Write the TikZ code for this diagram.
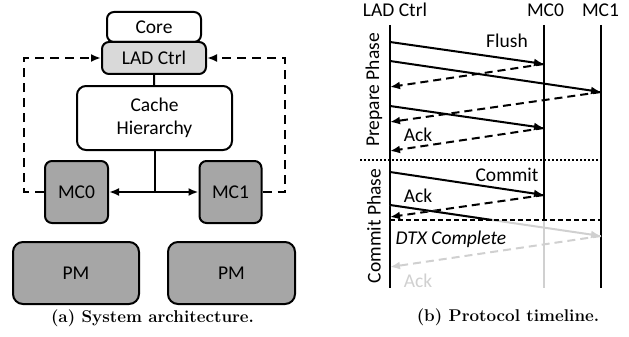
\documentclass[tikz,border=0pt]{standalone}
\usepackage{fontspec}
\setsansfont{Carlito}
\usetikzlibrary{arrows.meta}
\definecolor{ladgray}{HTML}{D9D9D9}
\definecolor{mcgray}{HTML}{A6A6A6}
\definecolor{fadegray}{HTML}{D0D0D0}
\tikzset{
  box/.style={draw,line width=2pt,rounded corners=7pt,inner sep=0pt,align=center},
  feedback/.style={line width=2pt,dash pattern=on 9pt off 6pt,->},
  msg/.style={line width=2pt,->},
  reply/.style={msg,dash pattern=on 8pt off 5pt},
  lifeline/.style={line width=2pt},
  caption/.style={font=\rmfamily\bfseries\fontsize{17}{20}\selectfont},
}
\begin{document}
\begin{tikzpicture}[x=1pt,y=-1pt,>={Latex[length=10pt,width=8pt]},inner sep=0pt,
  font=\sffamily\fontsize{19.5}{23}\selectfont]
\useasboundingbox (0,0) rectangle (629,337);
% (a) system architecture
\node[box,minimum width=94pt,minimum height=30pt] (core) at (154,27) {Core};
\node[box,fill=ladgray,minimum width=104pt,minimum height=32pt] (ladctrl) at (154,58) {LAD Ctrl};
\node[box,minimum width=155pt,minimum height=64pt,rounded corners=9pt] (cache) at (154.5,118) {Cache\\Hierarchy};
\node[box,fill=mcgray,minimum width=63pt,minimum height=62pt] (mc0) at (76.5,192) {MC0};
\node[box,fill=mcgray,minimum width=62pt,minimum height=62pt] (mc1) at (230.5,192) {MC1};
\node[box,fill=mcgray,minimum width=126pt,minimum height=62pt,rounded corners=10pt] (pm0) at (76,273) {PM};
\node[box,fill=mcgray,minimum width=127pt,minimum height=62pt,rounded corners=10pt] (pm1) at (231.5,273) {PM};
\draw[line width=2pt] (ladctrl) -- (cache);
\draw[line width=2pt] (cache.south) -- (cache.south |- mc0) coordinate (hub);
\draw[msg] (hub) -- (mc0);
\draw[msg] (hub) -- (mc1);
\draw[feedback] (mc0.west) -- ++(-20,0) |- (ladctrl.west);
\draw[feedback] (mc1.east) -- ++(22,0) |- (ladctrl.east);
\node[caption] (capa) at (152.5,318) {(a) System architecture.};
% (b) protocol timeline
\foreach \N/\X in {lad/390,mcz/544,mco/601}
  {\coordinate (\N) at (\X,25); \coordinate (\N-end) at (\X,288);}
\node (ladlbl) at (395,10) {LAD Ctrl};
\node (mczlbl) at (545.5,10) {MC0};
\node (mcolbl) at (600.5,10) {MC1};
\draw[lifeline] (lad) -- (lad-end);
\draw[lifeline] (mco) -- (mco-end);
\draw[lifeline,fadegray] (mcz |- 0,220) -- (mcz-end);
\draw[lifeline] (mcz) -- (mcz |- 0,220);
\foreach \A/\B/\Y/\Z/\S in {lad/mcz/42/64/msg,mcz/lad/64/87/reply,lad/mco/61/92/msg,
  mco/lad/92/122/reply,lad/mcz/106/128/msg,mcz/lad/128/151/reply,
  lad/mcz/172/195/msg,mcz/lad/195/217/reply}
  {\draw[\S] (\A |- 0,\Y) -- (\B |- 0,\Z);}
\draw[line width=2pt,dash pattern=on 2pt off 2pt] (360,160) coordinate (split) -- (mco |- split);
% DTX complete
\coordinate (dtx-l) at (lad |- 0,220);
\coordinate (dtx-r) at (mco |- 0,220);
\draw[msg,fadegray] (lad |- 0,205) coordinate (c1) -- (mco |- 0,236) coordinate (c2);
\draw[reply,fadegray] (c2) -- (lad |- 0,267);
\draw[line width=2pt] (c1) --
  (intersection cs:first line={(c1)--(c2)},second line={(dtx-l)--(dtx-r)});
\draw[line width=2pt,dash pattern=on 5pt off 3pt] (dtx-l) -- (dtx-r);
\node (flush) at (507,41) {Flush};
\node (ack1) at (418,135) {Ack};
\node (commit) at (507,175) {Commit};
\node (ack2) at (418,196) {Ack};
\node[font=\sffamily\itshape\fontsize{19.5}{23}\selectfont] (done) at (451,239) {DTX Complete};
\node[text=fadegray] (ack3) at (418,281) {Ack};
\node[rotate=90] (prep) at (374,90) {Prepare Phase};
\node[rotate=90] (comm) at (374,226) {Commit Phase};
\node[caption] (capb) at (508,317) {(b) Protocol timeline.};
\end{tikzpicture}
\end{document}
